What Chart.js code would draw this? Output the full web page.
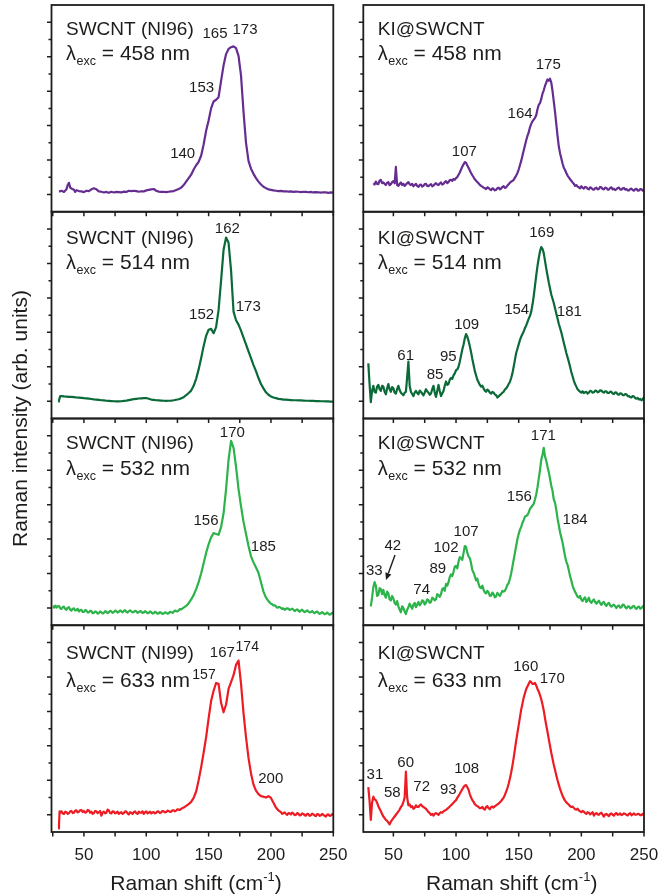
<!DOCTYPE html>
<html><head><meta charset="utf-8">
<script src="https://cdn.jsdelivr.net/npm/chart.js@4.4.0/dist/chart.umd.min.js"></script>
<style>html,body{margin:0;padding:0;background:#fff;}#wrap{position:relative;width:659px;height:896px;overflow:hidden;background:#fff;}canvas{position:absolute;left:0;top:0;}</style>
</head><body><div id="wrap"></div>
<script>
// ---------- DATA (Raman shift cm^-1, intensity arb. units) ----------
const xTickValues = [25,50,75,100,125,150,175,200,225,250];
const xTickLabels = [50,100,150,200,250];
const yTickValues = [0,1,2,3,4,5,6,7,8,9,10];

const swcnt458 = [[30,.17],[32,.22],[34,.15],[36,.30],[37,.55],[38,.68],[39,.40],[40,.35],[42,.28],[43,.15],[44,.25],[46,.20],[48,.18],[50,.14],[52,.22],[54,.20],[56,.30],[58,.36],[60,.30],[62,.18],[64,.16],[66,.12],[68,.15],[70,.10],[72,.16],[74,.12],[76,.15],[78,.14],[80,.12],[82,.17],[84,.15],[86,.22],[88,.20],[90,.22],[92,.20],[94,.16],[96,.19],[98,.18],[100,.24],[102,.27],[104,.30],[106,.32],[108,.22],[110,.17],[112,.15],[114,.16],[116,.14],[118,.16],[120,.18],[122,.20],[124,.26],[126,.32],[128,.40],[130,.55],[132,.75],[134,.95],[136,1.15],[138,1.45],[140,1.70],[142,1.90],[144,2.25],[146,2.9],[148,3.7],[150,4.3],[152,5.0],[154,5.4],[156,5.5],[158,5.65],[160,6.6],[162,7.5],[164,8.15],[166,8.45],[168,8.55],[170,8.6],[172,8.5],[174,8.05],[176,6.9],[178,4.8],[180,3.0],[182,1.95],[184,1.5],[186,1.2],[188,0.95],[190,0.75],[192,0.58],[194,0.45],[196,0.37],[198,0.30],[200,0.27],[202,0.24],[204,0.22],[206,0.20],[208,0.21],[210,0.18],[212,0.19],[214,0.17],[216,0.18],[218,0.15],[220,0.17],[222,0.16],[224,0.14],[226,0.16],[228,0.15],[230,0.13],[232,0.15],[234,0.12],[236,0.14],[238,0.13],[240,0.11],[242,0.13],[244,0.12],[246,0.10],[248,0.12],[250,0.11]];

const swcnt514 = [[29.5,-0.02],[30,0.05],[31,.30],[32,.30],[34,.28],[36,.27],[38,.25],[40,.26],[42,.24],[44,.22],[46,.21],[48,.20],[50,.18],[52,.17],[54,.15],[56,.13],[58,.11],[60,.10],[62,.08],[64,.06],[66,.05],[68,.03],[70,.02],[72,.01],[74,.00],[76,-.01],[78,-.01],[80,.00],[82,.02],[84,.04],[86,.07],[88,.10],[90,.12],[92,.14],[94,.16],[96,.17],[98,.18],[100,.19],[102,.15],[104,.10],[106,.08],[108,.06],[110,.05],[112,.04],[114,.03],[116,.02],[118,.03],[120,.04],[122,.06],[124,.09],[126,.12],[128,.17],[130,.24],[132,.35],[134,.48],[136,.62],[138,.90],[140,1.3],[142,1.85],[144,2.5],[146,3.2],[148,3.8],[150,4.15],[152,4.2],[154,3.95],[156,4.3],[158,5.3],[160,7.0],[162,8.8],[164,9.5],[166,9.2],[168,7.6],[170,5.2],[172,4.7],[174,4.45],[176,4.1],[178,3.7],[180,3.3],[182,2.9],[184,2.5],[186,2.1],[188,1.75],[190,1.35],[192,1.0],[194,0.75],[196,0.52],[198,0.38],[200,0.28],[202,0.22],[204,0.18],[206,0.14],[208,0.12],[210,0.10],[212,0.09],[214,0.08],[216,0.07],[218,0.06],[220,0.06],[222,0.05],[224,0.05],[226,0.04],[228,0.03],[230,0.03],[232,0.02],[234,0.02],[236,0.01],[238,0.01],[240,0.00],[242,0.00],[244,-0.01],[246,-0.01],[248,-0.02],[250,-0.02]];

const swcnt532 = [[25.5,.10],[26,.02],[27,.14],[28,.02],[29,.10],[30,.12],[31,-.02],[32,-.05],[33,.06],[34,.08],[35,-.06],[36,-.10],[37,.02],[38,.05],[39,-.10],[40,-.15],[41,-.04],[42,-.02],[43,-.14],[44,-.12],[45,-.05],[46,-.20],[47,-.12],[48,-.10],[49,-.22],[50,-.22],[51,-.12],[52,-.15],[53,-.26],[54,-.25],[55,-.16],[56,-.18],[57,-.30],[58,-.28],[59,-.20],[60,-.22],[61,-.32],[62,-.30],[63,-.20],[64,-.25],[65,-.32],[66,-.28],[67,-.18],[68,-.22],[69,-.30],[70,-.25],[71,-.16],[72,-.20],[73,-.28],[74,-.24],[75,-.15],[76,-.18],[77,-.26],[78,-.22],[79,-.14],[80,-.20],[81,-.25],[82,-.17],[83,-.12],[84,-.22],[85,-.26],[86,-.18],[87,-.14],[88,-.20],[89,-.25],[90,-.23],[91,-.16],[92,-.19],[93,-.28],[94,-.24],[95,-.18],[96,-.21],[97,-.28],[98,-.26],[99,-.18],[100,-.23],[101,-.30],[102,-.28],[103,-.20],[104,-.24],[105,-.32],[106,-.30],[107,-.22],[108,-.26],[109,-.33],[110,-.31],[111,-.24],[112,-.27],[113,-.34],[114,-.32],[115,-.25],[116,-.28],[117,-.33],[118,-.30],[119,-.22],[120,-.25],[121,-.28],[122,-.22],[123,-.15],[124,-.18],[125,-.20],[126,-.14],[127,-.06],[128,-.08],[130,.02],[132,.12],[134,.28],[136,.50],[138,.75],[140,1.1],[142,1.5],[144,2.0],[146,2.6],[148,3.2],[150,3.7],[152,4.1],[154,4.35],[156,4.3],[158,4.25],[160,4.7],[162,5.5],[164,6.9],[166,8.6],[168,9.7],[170,9.3],[172,8.2],[174,6.9],[176,5.9],[178,5.0],[180,4.3],[182,3.6],[184,3.0],[186,2.65],[188,2.35],[190,2.05],[192,1.5],[194,0.95],[196,0.6],[198,0.4],[200,.25],[201,.22],[202,.15],[203,.16],[204,.10],[205,.02],[206,.05],[207,.06],[208,.0],[209,-.05],[210,-.02],[211,-.10],[212,-.05],[213,-.02],[214,-.03],[215,-.12],[216,-.08],[217,-.04],[218,-.10],[219,-.18],[220,-.12],[221,-.08],[222,-.15],[223,-.22],[224,-.14],[225,-.10],[226,-.18],[227,-.24],[228,-.20],[229,-.14],[230,-.19],[231,-.26],[232,-.23],[233,-.18],[234,-.25],[235,-.30],[236,-.24],[237,-.20],[238,-.28],[239,-.34],[240,-.30],[241,-.24],[242,-.29],[243,-.36],[244,-.33],[245,-.26],[246,-.32],[247,-.38],[248,-.36],[249,-.28],[250,-.30]];

const swcnt633 = [[29.5,-0.8],[30,-0.6],[30.5,.20],[31,.12],[32,.20],[33,.08],[34,.05],[35,.18],[36,.15],[37,.05],[38,.10],[39,.20],[40,.22],[41,.10],[42,.12],[43,.24],[44,.25],[45,.14],[46,.18],[47,.26],[48,.28],[49,.16],[50,.22],[51,.12],[52,.15],[53,.28],[54,.25],[55,.12],[56,.18],[57,.05],[58,.10],[59,.22],[60,.20],[61,.10],[62,.15],[63,.22],[64,-.05],[65,.12],[66,.18],[67,.08],[68,.12],[69,.30],[70,.25],[71,.10],[72,.08],[73,.20],[74,.18],[75,.08],[76,.12],[77,.18],[78,.05],[79,.12],[80,.15],[81,.05],[82,.10],[83,.20],[84,.18],[85,.08],[86,.02],[87,.15],[88,.12],[89,.05],[90,.15],[91,.20],[92,.10],[93,.05],[94,.18],[95,.12],[96,.12],[97,.20],[98,.05],[99,.15],[100,.20],[101,.08],[102,.12],[103,.18],[104,.08],[105,.14],[106,.15],[107,.08],[108,.12],[109,.20],[110,.18],[111,.10],[112,.14],[113,.22],[114,.20],[115,.14],[116,.16],[117,.24],[118,.22],[119,.16],[120,.18],[121,.26],[122,.26],[123,.20],[124,.24],[125,.32],[126,.30],[127,.28],[128,.35],[130,.42],[132,.52],[134,.62],[136,.75],[138,.98],[140,1.35],[142,2.0],[144,2.75],[146,3.6],[148,4.5],[150,5.6],[152,6.6],[154,7.2],[156,7.65],[158,7.6],[160,6.5],[162,5.95],[164,6.4],[166,7.3],[168,7.7],[170,8.1],[172,8.7],[174,8.95],[176,7.6],[178,5.9],[180,4.5],[182,3.3],[184,2.4],[186,1.75],[188,1.4],[190,1.2],[192,1.08],[194,1.05],[196,1.0],[198,1.08],[200,0.98],[202,0.7],[204,0.42],[206,.25],[207,.20],[208,.15],[209,.05],[210,.10],[211,.14],[212,.05],[213,.00],[214,.10],[215,.08],[216,.02],[217,.12],[218,.08],[219,-.02],[220,0.0],[221,.10],[222,.06],[223,-.04],[224,-.02],[225,.08],[226,.05],[227,-.02],[228,-.05],[229,.06],[230,.04],[231,-.06],[232,-.03],[233,.06],[234,.02],[235,-.04],[236,-.08],[237,.04],[238,.03],[239,-.06],[240,-.04],[241,.05],[242,0.0],[243,-.06],[244,-.1],[245,.0],[246,0.02],[247,-.06],[248,-.05],[249,.04],[250,-.02]];

const ki458 = [[34,.65],[35,.58],[36,.75],[37,.62],[38,.60],[39,.80],[40,.85],[41,.66],[42,.70],[43,.62],[44,.55],[45,.68],[46,.72],[47,.54],[48,.60],[49,.72],[50,.78],[51,.65],[52,1.6],[53,.55],[54,.50],[55,.62],[56,.70],[57,.55],[58,.62],[59,.50],[60,.58],[61,.66],[62,.72],[63,.60],[64,.55],[65,.62],[66,.48],[67,.55],[68,.62],[69,.50],[70,.45],[71,.55],[72,.58],[73,.46],[74,.50],[75,.60],[76,.62],[77,.50],[78,.48],[79,.56],[80,.60],[81,.48],[82,.52],[83,.60],[84,.66],[85,.58],[86,.55],[87,.64],[88,.70],[89,.58],[90,.62],[91,.72],[92,.78],[93,.66],[94,.72],[95,.84],[96,.85],[97,.80],[98,.90],[99,.86],[100,.95],[101,1.02],[102,1.15],[103,1.28],[104,1.45],[105,1.62],[106,1.75],[107,1.88],[108,1.85],[109,1.68],[110,1.55],[111,1.40],[112,1.25],[113,1.12],[114,1.0],[115,.88],[116,.80],[117,.72],[118,.65],[119,.56],[120,.50],[121,.46],[122,.40],[123,.36],[124,.32],[125,.42],[126,.38],[127,.30],[128,.25],[129,.36],[130,.32],[131,.24],[132,.28],[133,.36],[134,.40],[135,.30],[136,.35],[137,.44],[138,.48],[139,.38],[140,.42],[141,.52],[142,.60],[143,.68],[144,.75],[145,.78],[146,.85],[147,.98],[148,1.1],[149,1.25],[150,1.45],[151,1.7],[152,1.95],[153,2.25],[154,2.55],[155,2.85],[156,3.15],[157,3.4],[158,3.6],[159,3.9],[160,4.1],[161,4.25],[162,4.35],[163,4.45],[164,4.6],[165,4.95],[166,5.2],[167,5.3],[168,5.55],[169,5.85],[170,6.05],[171,6.3],[172,6.5],[173,6.68],[174,6.6],[175,6.72],[176,6.5],[177,6.0],[178,5.4],[179,4.8],[180,4.1],[181,3.4],[182,2.8],[183,2.4],[184,2.1],[185,1.8],[186,1.55],[187,1.42],[188,1.25],[189,1.1],[190,1.0],[191,.88],[192,.80],[193,.70],[194,.62],[195,.50],[196,.55],[197,.46],[198,.42],[199,.36],[200,.48],[201,.40],[202,.34],[203,.44],[204,.42],[205,.33],[206,.30],[207,.42],[208,.38],[209,.30],[210,.28],[211,.36],[212,.40],[213,.30],[214,.32],[215,.44],[216,.42],[217,.32],[218,.30],[219,.40],[220,.38],[221,.28],[222,.28],[223,.38],[224,.42],[225,.30],[226,.34],[227,.26],[228,.30],[229,.38],[230,.40],[231,.30],[232,.28],[233,.36],[234,.38],[235,.28],[236,.32],[237,.24],[238,.24],[239,.32],[240,.34],[241,.26],[242,.22],[243,.30],[244,.33],[245,.22],[246,.24],[247,.32],[248,.30],[249,.22],[250,.26]];

const ki514 = [[30,2.2],[31,1.0],[32,-0.05],[33,.6],[34,0.9],[35,.55],[36,0.5],[37,.85],[38,0.95],[39,.7],[40,0.6],[41,.9],[42,0.85],[43,.55],[44,0.4],[45,.75],[46,1.0],[47,.7],[48,0.55],[49,.82],[50,0.75],[51,.5],[52,0.45],[53,.7],[54,0.9],[55,.65],[56,0.5],[57,.42],[58,0.35],[59,.5],[60,0.55],[61,1.4],[62,2.3],[63,0.9],[64,0.55],[65,.42],[66,0.3],[67,.5],[68,0.6],[69,.48],[70,0.4],[71,.62],[72,0.55],[73,.45],[74,0.35],[75,.5],[76,0.7],[77,.58],[78,0.5],[79,.38],[80,0.45],[81,.7],[82,0.9],[83,.5],[84,0.25],[85,.6],[86,0.95],[87,.6],[88,0.3],[89,.45],[90,0.6],[91,.9],[92,1.15],[93,.95],[94,1.0],[95,1.25],[96,1.35],[97,1.3],[98,1.5],[99,1.62],[100,1.8],[101,1.85],[102,2.0],[103,2.3],[104,2.65],[105,3.0],[106,3.3],[107,3.65],[108,3.9],[109,3.75],[110,3.5],[111,3.2],[112,2.85],[113,2.45],[114,2.1],[115,1.75],[116,1.5],[117,1.25],[118,1.1],[119,.95],[120,.85],[121,.9],[122,.75],[123,.62],[124,.55],[125,.68],[126,.62],[127,.50],[128,.45],[129,.55],[130,.50],[131,.40],[132,.35],[133,.22],[134,.28],[135,.36],[136,.42],[137,.50],[138,.55],[139,.68],[140,.75],[141,.85],[142,1.0],[143,1.12],[144,1.35],[145,1.62],[146,2.0],[147,2.4],[148,2.8],[149,3.05],[150,3.3],[151,3.55],[152,3.75],[153,3.9],[154,4.05],[155,4.25],[156,4.4],[157,4.6],[158,4.8],[159,4.95],[160,5.2],[161,5.6],[162,6.1],[163,6.7],[164,7.3],[165,7.85],[166,8.3],[167,8.7],[168,8.95],[169,8.85],[170,8.6],[171,8.15],[172,7.7],[173,7.3],[174,6.9],[175,6.55],[176,6.2],[177,5.95],[178,5.7],[179,5.4],[180,5.1],[181,4.8],[182,4.5],[183,4.25],[184,4.0],[185,3.7],[186,3.4],[187,3.1],[188,2.8],[189,2.55],[190,2.3],[191,2.0],[192,1.7],[193,1.45],[194,1.2],[195,1.0],[196,.85],[197,.7],[198,.62],[199,.55],[200,.50],[201,.58],[202,.48],[203,.52],[204,.55],[205,.45],[206,.50],[207,.60],[208,.58],[209,.50],[210,.52],[211,.62],[212,.60],[213,.52],[214,.55],[215,.64],[216,.62],[217,.54],[218,.50],[219,.58],[220,.58],[221,.48],[222,.48],[223,.56],[224,.55],[225,.45],[226,.42],[227,.52],[228,.50],[229,.40],[230,.38],[231,.46],[232,.45],[233,.36],[234,.35],[235,.42],[236,.40],[237,.30],[238,.30],[239,.24],[240,.22],[241,.30],[242,.28],[243,.18],[244,.15],[245,.20],[246,.10],[247,.14],[248,.05],[249,.12],[250,.25]];

const ki532 = [[32,.10],[33,.6],[34,1.2],[35,1.5],[36,1.3],[37,.7],[38,.75],[39,1.15],[40,1.1],[41,.8],[42,1.05],[43,.75],[44,.6],[45,.95],[46,.85],[47,.5],[48,.45],[49,.7],[50,.55],[51,.3],[52,.2],[53,.4],[54,.1],[55,-.1],[56,-.25],[57,.1],[58,0.0],[59,-.2],[60,-.35],[61,-.1],[62,.05],[63,.25],[64,.1],[65,-.05],[66,.2],[67,.3],[68,.05],[69,.2],[70,.35],[71,.15],[72,.25],[73,.45],[74,.4],[75,.2],[76,.3],[77,.5],[78,.45],[79,.3],[80,.35],[81,.6],[82,.55],[83,.45],[84,.5],[85,.8],[86,.75],[87,.65],[88,.8],[89,1.1],[90,1.15],[91,1.0],[92,1.4],[93,1.3],[94,1.5],[95,1.8],[96,1.95],[97,1.85],[98,2.1],[99,2.4],[100,2.45],[101,2.3],[102,2.7],[103,2.95],[104,2.9],[105,2.8],[106,3.2],[107,3.6],[108,3.55],[109,3.2],[110,3.0],[111,2.9],[112,2.6],[113,2.2],[114,2.05],[115,1.85],[116,1.6],[117,1.7],[118,1.4],[119,1.2],[120,1.15],[121,1.3],[122,1.05],[123,.9],[124,.85],[125,1.0],[126,.9],[127,.7],[128,.72],[129,.9],[130,.8],[131,.62],[132,.68],[133,.88],[134,.78],[135,.7],[136,.85],[137,1.0],[138,.95],[139,1.0],[140,1.15],[141,1.35],[142,1.45],[143,1.7],[144,2.0],[145,2.4],[146,2.8],[147,3.2],[148,3.6],[149,4.0],[150,4.3],[151,4.55],[152,4.7],[153,4.95],[154,5.1],[155,5.3],[156,5.35],[157,5.4],[158,5.55],[159,5.75],[160,5.85],[161,5.95],[162,6.05],[163,6.3],[164,6.6],[165,7.0],[166,7.5],[167,8.0],[168,8.6],[169,8.9],[170,9.3],[171,8.8],[172,8.55],[173,8.2],[174,7.9],[175,7.5],[176,7.1],[177,6.8],[178,6.3],[179,6.1],[180,5.7],[181,5.2],[182,4.8],[183,4.4],[184,4.1],[185,3.8],[186,3.4],[187,3.0],[188,2.7],[189,2.5],[190,2.2],[191,1.85],[192,1.6],[193,1.3],[194,1.1],[195,.95],[196,.8],[197,.65],[198,.6],[199,.7],[200,.48],[201,.4],[202,.55],[203,.62],[204,.35],[205,.45],[206,.6],[207,.38],[208,.3],[209,.42],[210,.5],[211,.35],[212,.25],[213,.36],[214,.42],[215,.28],[216,.18],[217,.3],[218,.35],[219,.2],[220,.12],[221,.25],[222,.3],[223,.15],[224,.08],[225,.15],[226,.2],[227,.1],[228,.0],[229,.12],[230,.15],[231,.02],[232,.05],[233,.2],[234,.18],[235,.05],[236,-.02],[237,.08],[238,.1],[239,-.02],[240,.0],[241,.1],[242,.12],[243,.0],[244,-.05],[245,.06],[246,.08],[247,-.04],[248,0.0],[249,.1],[250,.15]];

const ki633 = [[30,1.6],[31,.8],[32,-0.3],[33,.7],[34,1.05],[35,.9],[36,.85],[37,.7],[38,.5],[39,.35],[40,.2],[41,.05],[42,-.1],[43,-.2],[44,-.3],[45,-.35],[46,-.45],[47,-.55],[48,-.4],[49,-.3],[50,-.2],[51,-.1],[52,0.0],[53,.1],[54,.2],[55,.3],[56,.45],[57,.55],[58,.75],[59,1.0],[60,2.5],[61,1.0],[62,.55],[63,.6],[64,.45],[65,.5],[66,.35],[67,.4],[68,.55],[69,.45],[70,.45],[71,.55],[72,.6],[73,.5],[74,.45],[75,.4],[76,.35],[77,.25],[78,.15],[79,.1],[80,.0],[81,.05],[82,-.05],[83,.05],[84,.1],[85,.05],[86,.0],[87,.1],[88,.15],[89,.12],[90,.2],[91,.25],[92,.28],[93,.35],[94,.4],[95,.48],[96,.55],[97,.62],[98,.7],[99,.78],[100,.85],[101,.98],[102,1.1],[103,1.22],[104,1.35],[105,1.48],[106,1.6],[107,1.7],[108,1.72],[109,1.6],[110,1.45],[111,1.2],[112,1.0],[113,.85],[114,.75],[115,.62],[116,.55],[117,.5],[118,.45],[119,.38],[120,.40],[121,.45],[122,.35],[123,.3],[124,.45],[125,.5],[126,.38],[127,.32],[128,.45],[129,.48],[130,.42],[131,.5],[132,.55],[133,.6],[134,.65],[135,.72],[136,.80],[137,.9],[138,1.0],[139,1.15],[140,1.35],[141,1.55],[142,1.8],[143,2.1],[144,2.45],[145,2.85],[146,3.3],[147,3.8],[148,4.3],[149,4.75],[150,5.2],[151,5.65],[152,6.1],[153,6.45],[154,6.8],[155,7.05],[156,7.3],[157,7.45],[158,7.6],[159,7.75],[160,7.7],[161,7.6],[162,7.6],[163,7.65],[164,7.5],[165,7.3],[166,7.15],[167,6.95],[168,6.7],[169,6.4],[170,6.05],[171,5.6],[172,5.2],[173,4.8],[174,4.4],[175,4.0],[176,3.6],[177,3.25],[178,2.9],[179,2.6],[180,2.3],[181,2.0],[182,1.75],[183,1.5],[184,1.3],[185,1.1],[186,.95],[187,.82],[188,.72],[189,.65],[190,.58],[191,.5],[192,.45],[193,.48],[194,.40],[195,.32],[196,.30],[197,.35],[198,.25],[199,.2],[200,.15],[201,.22],[202,.18],[203,.1],[204,.05],[205,.15],[206,.12],[207,.02],[208,.08],[209,.15],[210,-.05],[211,.05],[212,.10],[213,.02],[214,0.0],[215,.08],[216,.12],[217,0.0],[218,-.1],[219,.02],[220,.05],[221,-.02],[222,-.08],[223,.05],[224,.08],[225,.0],[226,-.05],[227,.06],[228,.10],[229,.0],[230,.02],[231,.08],[232,-.02],[233,.02],[234,.08],[235,.04],[236,.0],[237,-.04],[238,.05],[239,.1],[240,-.03],[241,.02],[242,.08],[243,.0],[244,.0],[245,.06],[246,.04],[247,-.02],[248,-.02],[249,.05],[250,.0]];

// peak labels: [text, shift, intensity, fontSize]
const peaks458L = [['165',155.1,9.32,15],['173',179.2,9.55,15],['153',144.4,6.17,15],['140',129.2,2.35,15]];
const peaks514L = [['162',165,9.98,15],['152',144.4,5.0,15],['173',181.8,5.49,15]];
const peaks532L = [['170',169,10.14,15],['156',147.9,5.05,15],['185',193.9,3.56,15]];
const peaks633L = [['167',161,9.37,15],['174',181,9.75,14],['157',146.3,8.11,14],['200',199.8,2.06,15]];
const peaks458R = [['175',173.6,7.52,15],['164',151.1,4.71,15],['107',106.6,2.49,15]];
const peaks514R = [['169',168.4,9.78,15],['154',148.4,5.32,15],['181',190.4,5.2,15],['109',108.5,4.44,15],['95',93.8,2.56,15],['85',83.2,1.54,15],['61',59.8,2.61,15]];
const peaks532R = [['171',169.7,10.0,15],['156',150.5,6.46,15],['184',195,5.11,15],['107',108,4.43,15],['102',92,3.5,15],['89',85.4,2.3,15],['74',72.6,1.05,15],['42',49.5,3.62,15],['33',34.8,2.17,15]];
const peaks633R = [['160',155.6,8.56,15],['170',176.8,7.88,15],['108',108.5,2.64,15],['93',93.8,1.44,15],['72',72.6,1.63,15],['60',59.8,2.99,15],['58',49.1,1.28,15],['31',35.3,2.31,15]];
const arrow532R = [[51.3,3.08],[44.1,1.63]];

const samples = ['SWCNT (NI96)','SWCNT (NI96)','SWCNT (NI96)','SWCNT (NI99)'];
const wavelengths = ['458','514','532','633'];

// ---------- LAYOUT / STYLE ----------
const W = 659, H = 896;
const FONT = "'Liberation Sans', Arial, Helvetica, sans-serif";
const INK = '#1d1d1b';
const colors = ['#662d91','#0a6a38','#2cb34a','#ed1c24'];
const colL = [51.5, 363.3], colR = [333.3, 644], colMin = [24, 26];
const rowTop = [5, 211.75, 418.5, 625.25], rowH = 206.75;
const t1Off = [23.3, 25.5, 23.8, 26.7], t2Off = [48.3, 50.6, 49.8, 55];
const xTitleCenter = [196, 511.7];

const panels = [
  {col:0,row:0,data:swcnt458,peaks:peaks458L,title:samples[0]},
  {col:0,row:1,data:swcnt514,peaks:peaks514L,title:samples[1]},
  {col:0,row:2,data:swcnt532,peaks:peaks532L,title:samples[2]},
  {col:0,row:3,data:swcnt633,peaks:peaks633L,title:samples[3]},
  {col:1,row:0,data:ki458,peaks:peaks458R,title:'KI@SWCNT'},
  {col:1,row:1,data:ki514,peaks:peaks514R,title:'KI@SWCNT'},
  {col:1,row:2,data:ki532,peaks:peaks532R,title:'KI@SWCNT',arrow:arrow532R},
  {col:1,row:3,data:ki633,peaks:peaks633R,title:'KI@SWCNT'}
];

function makeDecor(p){
  return {
    id:'decor',
    afterDraw(chart){
      const ctx = chart.ctx, a = chart.chartArea, xs = chart.scales.x, ys = chart.scales.y;
      ctx.save();
      ctx.strokeStyle = INK; ctx.fillStyle = INK;
      ctx.lineWidth = 1.8;
      ctx.strokeRect(a.left, a.top, a.right - a.left, a.bottom - a.top);
      ctx.lineWidth = 1.5;
      ctx.beginPath();
      for (const t of xTickValues){
        if (t < xs.min || t > xs.max) continue;
        const px = xs.getPixelForValue(t);
        ctx.moveTo(px, a.bottom); ctx.lineTo(px, a.bottom + 4.5);
      }
      for (const t of yTickValues){
        const py = ys.getPixelForValue(t);
        const len = (t % 2 === 0) ? 4.5 : 3;
        ctx.moveTo(a.left, py); ctx.lineTo(a.left - len, py);
      }
      ctx.stroke();
      // panel title
      const tx = a.left + 14.5;
      ctx.textAlign = 'left'; ctx.textBaseline = 'alphabetic';
      ctx.font = '19px ' + FONT;
      const b1 = a.top + t1Off[p.row] + 6.8;
      ctx.fillText(p.title, tx, b1);
      const b2 = a.top + t2Off[p.row] + 7;
      ctx.font = '20px ' + FONT;
      ctx.fillText('λ', tx, b2);
      let cx = tx + ctx.measureText('λ').width + 0.5;
      ctx.font = '12.5px ' + FONT;
      ctx.fillText('exc', cx, b2 + 5);
      cx += ctx.measureText('exc').width;
      ctx.font = '21px ' + FONT;
      ctx.fillText(' = ' + wavelengths[p.row] + ' nm', cx, b2);
      // peak labels
      ctx.textAlign = 'center'; ctx.textBaseline = 'middle';
      for (const [txt, sx, sy, fs] of p.peaks){
        ctx.font = fs + 'px ' + FONT;
        ctx.fillText(txt, xs.getPixelForValue(sx), ys.getPixelForValue(sy));
      }
      if (p.arrow){
        const x0 = xs.getPixelForValue(p.arrow[0][0]), y0 = ys.getPixelForValue(p.arrow[0][1]);
        const x1 = xs.getPixelForValue(p.arrow[1][0]), y1 = ys.getPixelForValue(p.arrow[1][1]);
        const ang = Math.atan2(y1 - y0, x1 - x0);
        const hl = 7, hw = 3.2;
        const bx = x1 - hl * Math.cos(ang), by = y1 - hl * Math.sin(ang);
        ctx.lineWidth = 1.4;
        ctx.beginPath(); ctx.moveTo(x0, y0); ctx.lineTo(bx, by); ctx.stroke();
        ctx.beginPath();
        ctx.moveTo(x1, y1);
        ctx.lineTo(bx + hw * Math.sin(ang), by - hw * Math.cos(ang));
        ctx.lineTo(bx - hw * Math.sin(ang), by + hw * Math.cos(ang));
        ctx.closePath(); ctx.fill();
      }
      if (p.row === 3){
        ctx.font = '17px ' + FONT;
        ctx.textAlign = 'center'; ctx.textBaseline = 'alphabetic';
        for (const t of xTickLabels){
          ctx.fillText(String(t), xs.getPixelForValue(t), 860);
        }
        const main = 'Raman shift (cm', sup = '-1', close = ')';
        ctx.font = '21px ' + FONT; const w1 = ctx.measureText(main).width, w3 = ctx.measureText(close).width;
        ctx.font = '13px ' + FONT; const w2 = ctx.measureText(sup).width;
        let sx = xTitleCenter[p.col] - (w1 + w2 + w3) / 2;
        ctx.textAlign = 'left';
        ctx.font = '21px ' + FONT; ctx.fillText(main, sx, 890); sx += w1;
        ctx.font = '13px ' + FONT; ctx.fillText(sup, sx, 881); sx += w2;
        ctx.font = '21px ' + FONT; ctx.fillText(close, sx, 890);
      }
      if (p.col === 0 && p.row === 0){
        ctx.save();
        ctx.translate(26.5, 418.5);
        ctx.rotate(-Math.PI / 2);
        ctx.font = '21px ' + FONT;
        ctx.textAlign = 'center'; ctx.textBaseline = 'alphabetic';
        ctx.fillText('Raman intensity (arb. units)', 0, 0);
        ctx.restore();
      }
      ctx.restore();
    }
  };
}

const wrap = document.getElementById('wrap');
panels.forEach(p => {
  const cv = document.createElement('canvas');
  cv.width = W; cv.height = H;
  cv.style.width = W + 'px'; cv.style.height = H + 'px';
  wrap.appendChild(cv);
  const top = rowTop[p.row], bottom = top + rowH;
  new Chart(cv, {
    type: 'line',
    data: { datasets: [{
      data: p.data.map(d => ({x: d[0], y: d[1]})),
      borderColor: colors[p.row], borderWidth: 2.2,
      pointRadius: 0, tension: 0, fill: false, borderJoinStyle: 'round'
    }]},
    options: {
      responsive: false, animation: false, devicePixelRatio: 1,
      layout: { padding: { left: colL[p.col], right: W - colR[p.col], top: top, bottom: H - bottom } },
      plugins: { legend: { display: false }, tooltip: { enabled: false } },
      events: [],
      scales: {
        x: { type: 'linear', min: colMin[p.col], max: 250, display: false },
        y: { type: 'linear', min: -1, max: 11, display: false }
      }
    },
    plugins: [makeDecor(p)]
  });
});
</script>
</body></html>
